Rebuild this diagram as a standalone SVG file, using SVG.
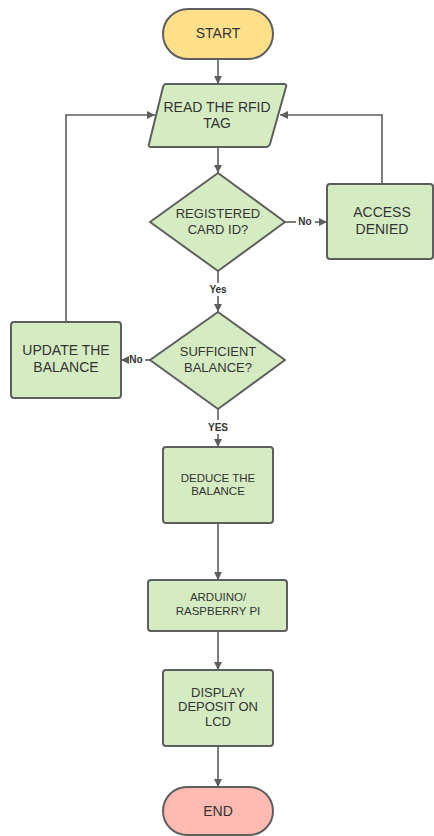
<svg xmlns="http://www.w3.org/2000/svg" width="434" height="836" viewBox="0 0 434 836">
<defs>
<marker id="ah" viewBox="0 0 10 10" refX="10" refY="5" markerWidth="8" markerHeight="8" markerUnits="userSpaceOnUse" orient="auto">
<path d="M0,0 L10,5 L0,10 z" fill="#5e5e5e"/>
</marker>
<style>
.s{stroke:#5e5e5e;stroke-width:2;}
.g{fill:#d5ecc2;}
.t{font-family:"Liberation Sans",Arial,sans-serif;fill:#333;text-anchor:middle;}
.c{fill:none;stroke:#5e5e5e;stroke-width:1.6;marker-end:url(#ah);}
.n{fill:none;stroke:#5e5e5e;stroke-width:1.6;}
.l{font-family:"Liberation Sans",Arial,sans-serif;font-weight:bold;font-size:10px;fill:#333;text-anchor:middle;}
</style>
</defs>
<rect width="434" height="836" fill="#fff"/>
<g id="connectors">
<path class="c" d="M218,59 V84"/>
<path class="c" d="M218,147 V173"/>
<path class="n" d="M285,222 H296"/>
<path class="c" d="M315,222 H327"/>
<path class="c" d="M382,184 V115 H280"/>
<path class="n" d="M218,271 V283"/>
<path class="c" d="M218,296 V312"/>
<path class="n" d="M150,360 H145"/>
<path class="c" d="M127,360 H121"/>
<path class="c" d="M66,322 V115 H155"/>
<path class="n" d="M218,409 V420"/>
<path class="c" d="M218,434 V447"/>
<path class="c" d="M218,523 V580"/>
<path class="c" d="M218,631 V670"/>
<path class="c" d="M218,746 V787"/>
<text class="l" x="305" y="225">No</text>
<text class="l" x="218" y="293">Yes</text>
<text class="l" x="136" y="363">No</text>
<text class="l" x="218" y="431">YES</text>
</g>
<g id="start">
<rect class="s" x="163" y="9" width="110" height="50" rx="25" fill="#ffe08a"/>
<text class="t" x="218" y="38" font-size="14">START</text>
</g>
<g id="read">
<path class="s g" d="M166,84 H284 Q287,84 286,87 L270,144 Q269,147 266,147 H151 Q148,147 149,144 L163,87 Q164,84 166,84 z"/>
<text class="t" x="217" y="112" font-size="14">READ THE RFID</text>
<text class="t" x="217" y="128" font-size="14">TAG</text>
</g>
<g id="registered">
<path class="s g" d="M218,173 L285,222 L218,271 L150,222 z" stroke-linejoin="round"/>
<text class="t" x="218" y="218" font-size="13">REGISTERED</text>
<text class="t" x="218" y="234" font-size="13">CARD ID?</text>
</g>
<g id="denied">
<rect class="s g" x="327" y="184" width="106" height="75" rx="3"/>
<text class="t" x="382" y="217" font-size="14">ACCESS</text>
<text class="t" x="382" y="234" font-size="14">DENIED</text>
</g>
<g id="sufficient">
<path class="s g" d="M218,312 L285,360 L218,409 L150,360 z" stroke-linejoin="round"/>
<text class="t" x="218" y="356" font-size="13">SUFFICIENT</text>
<text class="t" x="218" y="372" font-size="13">BALANCE?</text>
</g>
<g id="update">
<rect class="s g" x="11" y="322" width="110" height="76" rx="3"/>
<text class="t" x="66" y="355" font-size="14">UPDATE THE</text>
<text class="t" x="66" y="372" font-size="14">BALANCE</text>
</g>
<g id="deduce">
<rect class="s g" x="163" y="447" width="110" height="76" rx="3"/>
<text class="t" x="218" y="482" font-size="11.5">DEDUCE THE</text>
<text class="t" x="218" y="495" font-size="11.5">BALANCE</text>
</g>
<g id="arduino">
<rect class="s g" x="148" y="580" width="139" height="51" rx="3"/>
<text class="t" x="218" y="601" font-size="11.5">ARDUINO/</text>
<text class="t" x="218" y="615" font-size="11.5">RASPBERRY PI</text>
</g>
<g id="display">
<rect class="s g" x="163" y="670" width="110" height="76" rx="3"/>
<text class="t" x="218" y="697" font-size="13">DISPLAY</text>
<text class="t" x="218" y="711" font-size="13">DEPOSIT ON</text>
<text class="t" x="218" y="726" font-size="13">LCD</text>
</g>
<g id="end">
<rect class="s" x="163" y="787" width="110" height="48" rx="24" fill="#ffbbb1"/>
<text class="t" x="218" y="816" font-size="14">END</text>
</g>
</svg>
